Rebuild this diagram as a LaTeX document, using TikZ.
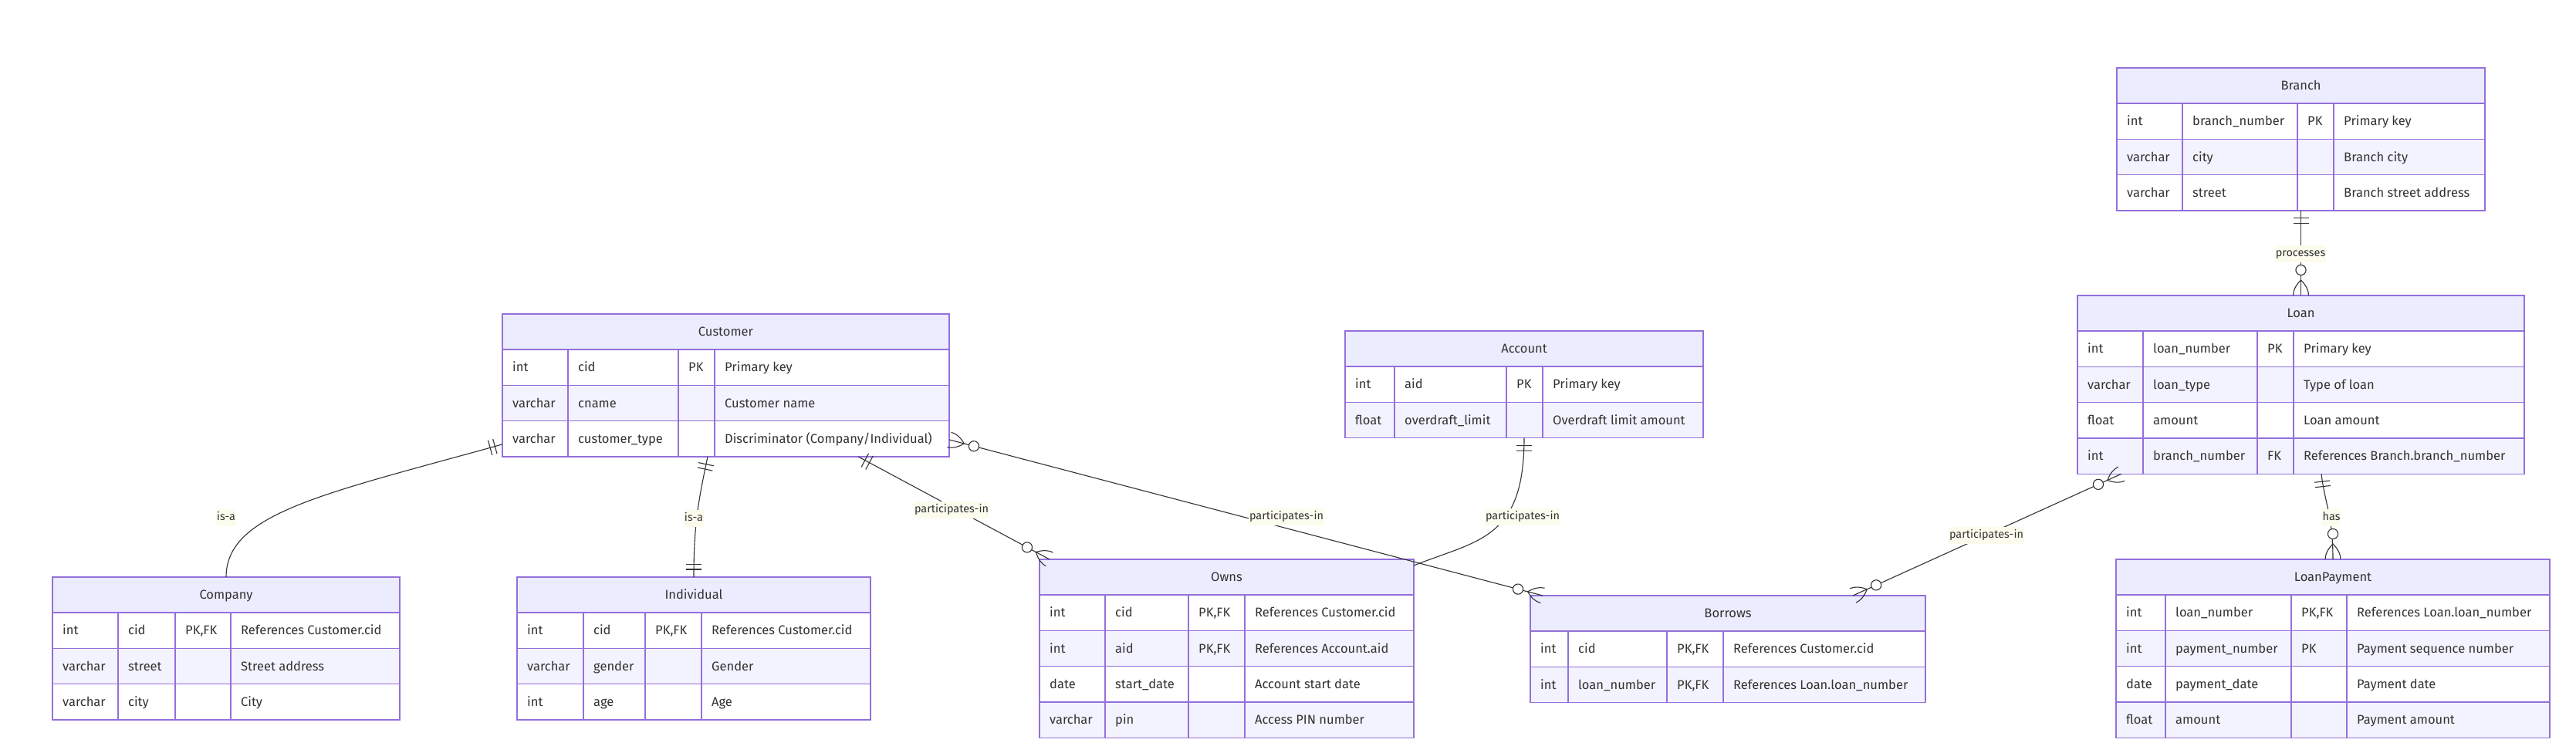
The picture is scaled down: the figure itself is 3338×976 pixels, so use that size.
\documentclass[tikz,border=0pt]{standalone}
\usepackage{fontspec}
\setmainfont{Fira Sans}
\usetikzlibrary{calc,decorations.markings}

\definecolor{erborder}{HTML}{9370DB}
\definecolor{erhead}{HTML}{ECECFF}
\definecolor{erevenrow}{HTML}{F3F3FF}
\definecolor{erline}{HTML}{333333}
\definecolor{ertext}{HTML}{333333}
\definecolor{erlabelbg}{HTML}{FCFCEE}

% name, left, top, col2, col3, col4, right, title, rows
\newcommand{\entitybox}[9]{%
  \pgfmathsetmacro\ebw{#7-#2}%
  \pgfmathsetmacro\ebh{46+46.3*#9}%
  \coordinate (#1-c1) at (#2,#3);
  \coordinate (#1-c2) at (#4,#3);
  \coordinate (#1-c3) at (#5,#3);
  \coordinate (#1-c4) at (#6,#3);
  \fill[erhead] (#2,#3) rectangle (#7,{#3+46});
  \foreach \k in {1,...,#9}{%
    \ifodd\k\relax\else
      \fill[erevenrow] (#2,{#3+46+46.3*(\k-1)}) rectangle (#7,{#3+46+46.3*\k});
    \fi}%
  \foreach \k in {1,...,#9}{%
    \draw[grid line] (#2,{#3+46+46.3*(\k-1)}) -- (#7,{#3+46+46.3*(\k-1)});}%
  \draw[grid line] (#4,{#3+46}) -- (#4,{#3+\ebh})
                   (#5,{#3+46}) -- (#5,{#3+\ebh})
                   (#6,{#3+46}) -- (#6,{#3+\ebh});
  \node[entity, minimum width=\ebw pt, minimum height=\ebh pt, anchor=north west] (#1) at (#2,#3) {};
  \node[title text] (#1-title) at ({(#2+#7)/2},{#3+28.8}) {#8};
}

% name, row, type, attribute, key, comment
\newcommand{\attrrow}[6]{%
  \node[cell text] (#1-#2-type) at ($(#1-c1)+(13,{46+46.3*(#2-0.5)+5.8})$) {#3};
  \node[cell text] (#1-#2-name) at ($(#1-c2)+(13,{46+46.3*(#2-0.5)+5.8})$) {#4};
  \node[cell text] (#1-#2-key)  at ($(#1-c3)+(13,{46+46.3*(#2-0.5)+5.8})$) {#5};
  \node[cell text] (#1-#2-note) at ($(#1-c4)+(13,{46+46.3*(#2-0.5)+5.8})$) {#6};
}

\begin{document}
\begin{tikzpicture}[x=1pt, y=-1pt,
    entity/.style={draw=erborder, line width=1.4pt, rectangle, inner sep=0pt, outer sep=0pt},
    grid line/.style={draw=erborder, line width=1.4pt},
    title text/.style={anchor=base, inner sep=0pt, text=ertext, font=\fontsize{16.5}{20}\selectfont},
    cell text/.style={anchor=base west, inner sep=0pt, text=ertext, font=\fontsize{16.5}{20}\selectfont},
    rel label/.style={fill=erlabelbg, text=ertext, inner xsep=1pt, inner ysep=3.5pt,
        text height=11pt, text depth=3.5pt, font=\fontsize{14.4}{17}\selectfont},
    relline/.style={draw=erline, line width=1.1pt},
    one start/.style={postaction={decorate, decoration={markings,
        mark=at position 0 with {\draw[relline] (10,-10) -- (10,10) (16.5,-10) -- (16.5,10);}}}},
    one end/.style={postaction={decorate, decoration={markings,
        mark=at position 1 with {\draw[relline] (-10,-10) -- (-10,10) (-16.5,-10) -- (-16.5,10);}}}},
    many start/.style={postaction={decorate, decoration={markings,
        mark=at position 0 with {\draw[relline] (0,10) .. controls (6.7,10) and (13.3,6.7) .. (20,0)
                                   .. controls (13.3,-6.7) and (6.7,-10) .. (0,-10);
                                 \draw[relline, fill=white] (33,0) circle (6.6pt);}}}},
    many end/.style={postaction={decorate, decoration={markings,
        mark=at position 1 with {\draw[relline] (0,10) .. controls (-6.7,10) and (-13.3,6.7) .. (-20,0)
                                   .. controls (-13.3,-6.7) and (-6.7,-10) .. (0,-10);
                                 \draw[relline, fill=white] (-33,0) circle (6.6pt);}}}}]

\fill[white] (0,0) rectangle (3338,976);
\useasboundingbox (0,0) rectangle (3338,976);

% Customer and its subtypes
\entitybox{cust}{651}{407}{736}{879}{926}{1230}{Customer}{3}
\attrrow{cust}{1}{int}{cid}{PK}{Primary key}
\attrrow{cust}{2}{varchar}{cname}{}{Customer name}
\attrrow{cust}{3}{varchar}{customer\_type}{}{Discriminator (Company/Individual)}

\entitybox{comp}{68}{748}{153}{227}{299}{518}{Company}{3}
\attrrow{comp}{1}{int}{cid}{PK,FK}{References Customer.cid}
\attrrow{comp}{2}{varchar}{street}{}{Street address}
\attrrow{comp}{3}{varchar}{city}{}{City}

\entitybox{ind}{670}{748}{756}{836}{909}{1128}{Individual}{3}
\attrrow{ind}{1}{int}{cid}{PK,FK}{References Customer.cid}
\attrrow{ind}{2}{varchar}{gender}{}{Gender}
\attrrow{ind}{3}{int}{age}{}{Age}

% Accounts
\entitybox{acct}{1743}{429}{1807}{1952}{1999}{2207}{Account}{2}
\attrrow{acct}{1}{int}{aid}{PK}{Primary key}
\attrrow{acct}{2}{float}{overdraft\_limit}{}{Overdraft limit amount}

\entitybox{owns}{1347}{725}{1432}{1540}{1613}{1832}{Owns}{4}
\attrrow{owns}{1}{int}{cid}{PK,FK}{References Customer.cid}
\attrrow{owns}{2}{int}{aid}{PK,FK}{References Account.aid}
\attrrow{owns}{3}{date}{start\_date}{}{Account start date}
\attrrow{owns}{4}{varchar}{pin}{}{Access PIN number}

% Loans
\entitybox{borr}{1983}{772}{2032}{2160}{2233}{2495}{Borrows}{2}
\attrrow{borr}{1}{int}{cid}{PK,FK}{References Customer.cid}
\attrrow{borr}{2}{int}{loan\_number}{PK,FK}{References Loan.loan\_number}

\entitybox{bran}{2743}{88}{2828}{2977}{3024}{3220}{Branch}{3}
\attrrow{bran}{1}{int}{branch\_number}{PK}{Primary key}
\attrrow{bran}{2}{varchar}{city}{}{Branch city}
\attrrow{bran}{3}{varchar}{street}{}{Branch street address}

\entitybox{loan}{2692}{383}{2777}{2925}{2972}{3271}{Loan}{4}
\attrrow{loan}{1}{int}{loan\_number}{PK}{Primary key}
\attrrow{loan}{2}{varchar}{loan\_type}{}{Type of loan}
\attrrow{loan}{3}{float}{amount}{}{Loan amount}
\attrrow{loan}{4}{int}{branch\_number}{FK}{References Branch.branch\_number}

\entitybox{lpay}{2742}{725}{2806}{2969}{3041}{3304}{LoanPayment}{4}
\attrrow{lpay}{1}{int}{loan\_number}{PK,FK}{References Loan.loan\_number}
\attrrow{lpay}{2}{int}{payment\_number}{PK}{Payment sequence number}
\attrrow{lpay}{3}{date}{payment\_date}{}{Payment date}
\attrrow{lpay}{4}{float}{amount}{}{Payment amount}

% Connector ends
\coordinate (cust-isa1) at ($(cust.south west)+(0,-16)$);
\coordinate (cust-isa2) at ($(cust.south west)+(266,0)$);
\coordinate (cust-own) at ($(cust.south west)+(461,0)$);
\coordinate (cust-bor) at ($(cust.south east)+(0,-22)$);
\coordinate (owns-cu) at ($(owns.north west)+(13,0)$);
\coordinate (owns-ac) at ($(owns.north east)+(0,8)$);
\coordinate (borr-cu) at ($(borr.north west)+(16,0)$);
\coordinate (borr-lo) at ($(borr.north east)+(-94,0)$);
\coordinate (loan-bor) at ($(loan.south west)+(57,0)$);
\coordinate (loan-pay) at ($(loan.south west)+(316,0)$);

% Relationships
\draw[relline, one start, one end] (cust-isa1) .. controls +(-230,64) and +(0,-83) .. (comp.north);
\draw[relline, one start, one end] (cust-isa2) .. controls +(-12,57) and +(0,-68) .. (ind.north);
\draw[relline, one start, many end] (cust-own) -- (owns-cu);
\draw[relline, many start, many end] (cust-bor) -- (borr-cu);
\draw[relline, one start, many end] (acct.south) .. controls +(0,132) and +(83,-33) .. (owns-ac);
\draw[relline, many start, many end] (loan-bor) -- (borr-lo);
\draw[relline, one start, many end] (bran.south) -- (loan.north);
\draw[relline, one start, many end] (loan-pay) .. controls +(4,35) and +(0,-55) .. (lpay.north);

% Relationship labels
\node[rel label] (isa-comp) at (293,671) {is-a};
\node[rel label] (isa-ind) at (899,672) {is-a};
\node[rel label] (part-owns) at (1233,661) {participates-in};
\node[rel label] (part-borr) at (1667,670) {participates-in};
\node[rel label] (part-acct) at (1973,670) {participates-in};
\node[rel label] (part-loan) at (2574,694) {participates-in};
\node[rel label] (proc) at (2981,329) {processes};
\node[rel label] (has) at (3021,671) {has};

\end{tikzpicture}
\end{document}
